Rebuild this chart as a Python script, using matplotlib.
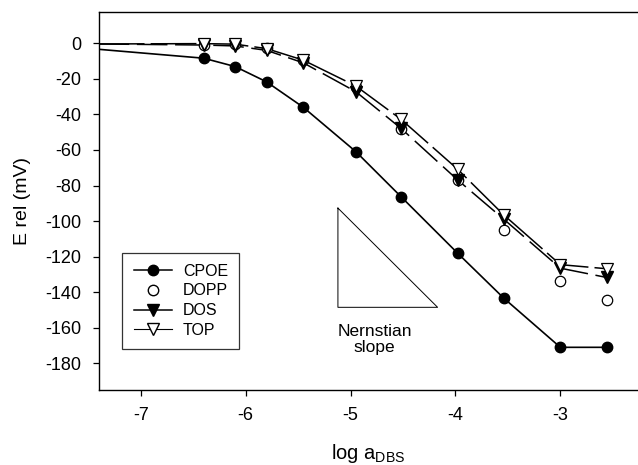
import matplotlib
matplotlib.use("Agg")
import matplotlib.pyplot as plt
from matplotlib.lines import Line2D

plt.rcParams['font.family'] = ['Liberation Sans', 'DejaVu Sans']

# log activity of DBS
log_a = [-6.40, -6.10, -5.80, -5.45, -4.95, -4.52, -3.98, -3.54, -3.00, -2.56]

# electrode responses (mV, relative)
cpoe = [-8.4, -13.1, -21.7, -36.0, -60.9, -86.2, -118.0, -143.3, -171.0, -171.0]
dopp = [-1.0, -0.6, -2.5, -9.4, -24.5, -48.3, -76.8, -105.3, -133.5, -144.2]
dos = [-1.0, -1.5, -4.0, -11.0, -27.2, -47.8, -76.8, -98.9, -126.5, -131.7]
top = [-0.2, -0.5, -3.0, -9.5, -24.0, -42.7, -70.8, -96.5, -124.5, -126.8]

# response curves continue to the low-activity end of the axis
x_left = -7.4
cpoe_left = -3.4
dos_left = -0.4
top_left = -0.4

# Nernstian slope triangle
nernst_x = [-5.12, -5.12, -4.17, -5.12]
nernst_y = [-92.7, -148.5, -148.5, -92.7]

xticks = [-7, -6, -5, -4, -3]
yticks = list(range(0, -181, -20))

fig = plt.figure(figsize=(6.38, 4.65), dpi=100)
ax = fig.add_axes([0.1547, 0.1613, 0.8453, 0.8122])

ax.plot([x_left] + log_a, [cpoe_left] + cpoe, color='black', lw=1.2, zorder=2)
ax.plot([x_left] + log_a, [top_left] + top, color='black', lw=1.1,
        dashes=(30, 4), zorder=2)
ax.plot([x_left] + log_a, [dos_left] + dos, color='black', lw=1.1,
        dashes=(20, 5), zorder=2)

ms = 7.5
ax.plot(log_a, cpoe, 'o', color='black', ms=ms, zorder=4)
ax.plot(log_a, dopp, 'o', mfc='white', mec='black', mew=0.9, ms=ms, zorder=3)
ax.plot(log_a, dos, 'v', color='black', ms=ms + 0.5, zorder=4)
ax.plot(log_a, top, 'v', mfc='white', mec='black', mew=0.9, ms=ms + 0.5, zorder=5)

ax.plot(nernst_x, nernst_y, color='black', lw=0.7)
ax.text(-4.77, -158, 'Nernstian\nslope', ha='center', va='top', fontsize=12.5,
        linespacing=1.05)

ax.set_xlim(-7.4, -2.26)
ax.set_ylim(-195, 17.4)
ax.set_xticks(xticks)
ax.set_xticklabels([str(t) for t in xticks])
ax.set_yticks(yticks)
ax.set_yticklabels([str(t) for t in yticks])
ax.tick_params(axis='both', direction='out', length=4.5, width=0.9,
               labelsize=13, color='black')
ax.tick_params(axis='x', pad=8)
ax.tick_params(axis='y', pad=8)
ax.spines['right'].set_visible(False)
for s in ('left', 'bottom', 'top'):
    ax.spines[s].set_linewidth(1.0)

ax.set_ylabel('E rel (mV)', fontsize=14, labelpad=10)
ax.set_xlabel(r'log a$_{\mathregular{DBS}}$', fontsize=14.5, labelpad=13)

handles = [
    Line2D([], [], color='black', lw=1.1, marker='o', ms=ms),
    Line2D([], [], ls='none', marker='o', mfc='white', mec='black', ms=ms),
    Line2D([], [], color='black', lw=1.1, marker='v', ms=ms + 0.5),
    Line2D([], [], color='black', lw=0.8, marker='v', mfc='white',
           mec='black', ms=ms + 0.5),
]
leg = ax.legend(handles, ['CPOE', 'DOPP', 'DOS', 'TOP'], loc='upper left',
                bbox_to_anchor=(0.044, 0.364), borderaxespad=0, fontsize=11.5,
                frameon=True, fancybox=False, edgecolor='black',
                handlelength=2.4, handletextpad=0.7, labelspacing=0.3,
                borderpad=0.7)
leg.get_frame().set_linewidth(0.9)

fig.savefig('out.png', dpi=100)
